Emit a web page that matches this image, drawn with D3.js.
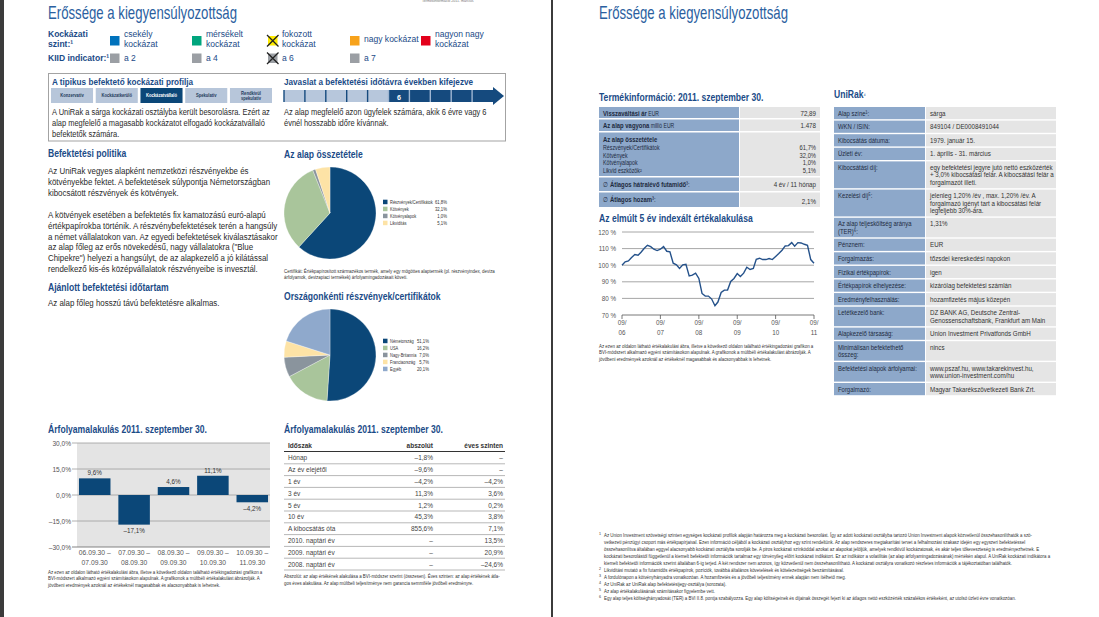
<!DOCTYPE html>
<html>
<head>
<meta charset="utf-8">
<script src="https://cdn.jsdelivr.net/npm/d3@7"></script>
<style>
  body { margin: 0; background: #fff; }
  svg { display: block; }
</style>
</head>
<body>
<svg id="page" width="1099" height="617"></svg>
<script>
// ---- data ----
const riskLabels = [['csekély', 'kockázat'], ['mérsékelt', 'kockázat'], ['fokozott', 'kockázat'], ['nagy kockázat'], ['nagyon nagy', 'kockázat']];
const riskColors = ['#0072bc', '#00a57d', '#ffec00', '#f7a21b', '#e3001b'];
const kiidLabels = ['a 2', 'a 4', 'a 6', 'a 7'];
const riskSelected = 2;

const profiles = [['Konzervatív'], ['Kockázatkerülő'], ['Kockázatvállaló'], ['Spekulatív'], ['Rendkívül', 'spekulatív']];
const profileSelected = 2;
const horizonYears = 10;
const horizonMin = 6;

const fundParts = ['Részvények/Certifikátok', 'Kötvények', 'Kötvényalapok', 'Likviditás'];
const fundShares = [61.8, 32.1, 1.0, 5.1];
const countryNames = ['Németország', 'USA', 'Nagy-Britannia', 'Franciaország', 'Egyéb'];
const countryShares = [51.1, 16.2, 7.0, 5.7, 20.1];
const pieColors = ['#0b4778', '#a9c59b', '#8a949d', '#fde3a6', '#8fa9cc'];

const barPeriods = [['06.09.30 –', '07.09.30'], ['07.09.30 –', '08.09.30'], ['08.09.30 –', '09.09.30'], ['09.09.30 –', '10.09.30'], ['10.09.30 –', '11.09.30']];
const barValues = [9.6, -17.1, 4.6, 11.1, -4.2];
const barTicks = [30, 15, 0, -15, -30];

const perfPeriods = ['Hónap', 'Az év elejétől', '1 év', '3 év', '5 év', '10 év', 'A kibocsátás óta', '2010. naptári év', '2009. naptári év', '2008. naptári év'];
const perfAbsolute = [-1.8, -9.6, -4.2, 11.3, 1.2, 45.3, 855.6, null, null, null];
const perfAnnual = [null, null, -4.2, 3.6, 0.2, 3.8, 7.1, 13.5, 20.9, -24.6];

const redemptionPrice = 72.89;
const fundAssets = 1478;
const compNames = ['Részvények/Certifikátok', 'Kötvények', 'Kötvényalapok', 'Likvid eszközök²'];
const compValues = [61.7, 32.0, 1.0, 5.1];
const avgMaturity = '4 év / 11 hónap';
const avgYield = 2.1;

const indexStart = new Date(2006, 8, 30);
const indexValues = [100, 102, 102.6, 104.6, 106.4, 106, 107.8, 110.2, 112, 111.2, 109.6, 108.8, 109.6,
  111.2, 108.4, 108, 101.2, 100.2, 98, 100.2, 100.6, 93.6, 94, 95.2, 92,
  83, 81.4, 81.4, 79.6, 75.6, 77.8, 83.6, 85, 85, 90.2, 92, 95,
  93.2, 95.2, 98.8, 97.4, 98, 103.6, 104.2, 103.4, 103.4, 104, 103.4, 105.2,
  107, 109, 111.6, 111.8, 113.6, 111.4, 113.6, 113.4, 112.6, 112, 103.4, 101.2];
const indexTicks = [70, 80, 90, 100, 110, 120];

const uniLabels = [['Alap színe¹:'], ['WKN / ISIN:'], ['Kibocsátás dátuma:'], ['Üzleti év:'], ['Kibocsátási díj:'], ['Kezelési díj⁵:'],
  ['Az alap teljesköltség aránya', '(TER)⁶:'], ['Pénznem:'], ['Forgalmazás:'], ['Fizikai értékpapírok:'], ['Értékpapírok elhelyezése:'],
  ['Eredményfelhasználás:'], ['Letétkezelő bank:'], ['Alapkezelő társaság:'], ['Minimálisan befektethető', 'összeg:'],
  ['Befektetési alapok árfolyamai:'], ['Forgalmazó:']];
const uniValues = [['sárga'], ['849104 / DE0008491044'], ['1979. január 15.'], ['1. április - 31. március'],
  ['egy befektetési jegyre jutó nettó eszközérték', '+ 3,0% kibocsátási felár. A kibocsátási felár a', 'forgalmazót illeti.'],
  ['jelenleg 1,20% /év , max. 1,20% /év. A', 'forgalmazó igényt tart a kibocsátási felár', 'legfeljebb 30%-ára.'],
  ['1,31%'], ['EUR'], ['tőzsdei kereskedési napokon'], ['igen'], ['kizárólag befektetési számlán'], ['hozamfizetés május közepén'],
  ['DZ BANK AG, Deutsche Zentral-', 'Genossenschaftsbank, Frankfurt am Main'], ['Union Investment Privatfonds GmbH'], ['nincs'],
  ['www.pszaf.hu, www.takarekinvest.hu,', 'www.union-investment.com/hu'], ['Magyar Takarékszövetkezeti Bank Zrt.']];

const policyText = [
  ['Az UniRak vegyes alapként nemzetközi részvényekbe és', 'kötvényekbe fektet. A befektetések súlypontja Németországban', 'kibocsátott részvények és kötvények.'],
  ['A kötvények esetében a befektetés fix kamatozású euró-alapú', 'értékpapírokba történik. A részvénybefektetések terén a hangsúly',
    'a német vállalatokon van. Az egyedi befektetések kiválasztásakor', 'az alap főleg az erős növekedésű, nagy vállalatokra ("Blue',
    'Chipekre") helyezi a hangsúlyt, de az alapkezelő a jó kilátással', 'rendelkező kis-és középvállalatok részvényeibe is invesztál.']
];
const chartNote = ['Az ezen az oldalon látható értékalakulási ábra, illetve a következő oldalon található értékingadozási grafikon a',
  'BVI-módszert alkalmazó egyéni számításokon alapulnak. A grafikonok a múltbéli értékalakulást ábrázolják. A',
  'jövőbeni eredmények azoknál az értékeknél magasabbak és alacsonyabbak is lehetnek.'];
const footnotes = [
  ['1', 'Az Union Investment szövetségi szinten egységes kockázati profilok alapján határozza meg a kockázati besorolást. Így az adott kockázati osztályba tartozó Union Investment alapok közvetlenül összehasonlíthatók a szö-'],
  ['', 'vetkezeti pénzügyi csoport más értékpapírjaival. Ezen információ céljából a kockázati osztályhoz egy színt rendeltünk. Az alap rendszeres megtakarítási tervet a felhalmozási szakasz idején egy egyszeri befektetéssel'],
  ['', 'összehasonlítva általában eggyel alacsonyabb kockázati osztályba sorolják be. A piros kockázati színkóddal azokat az alapokat jelöljük, amelyek rendkívül kockázatosak, és akár teljes tőkeveszteség is eredményezhetnek. E'],
  ['', 'kockázati besorolástól függetlenül a kiemelt befektetői információk tartalmaz egy törvényileg előírt kockázati indikátort. Ez az indikátor a volatilitás (az alap árfolyamingadozásának) mértékén alapul. A UniRak kockázati indikátora a'],
  ['', 'kiemelt befektetői információk szerint általában 6-ig terjed. A két rendszer nem azonos, így közvetlenül nem összehasonlítható. A kockázati osztályra vonatkozó részletes információk a tájékoztatóban találhatók.'],
  ['2', 'Likviditási mutató a fix futamidős értékpapírok, pozíciók, továbbá általános követelések és kötelezettségek beszámításával.'],
  ['3', 'A fordulónapon a kötvényhányadra vonatkozóan. A hozamfizetés és a jövőbeli teljesítmény ennek alapján nem ítélhető meg.'],
  ['4', 'Az UniRak az UniRak alap befektetésijegy-osztálya (sorozata).'],
  ['5', 'Az alap értékalakulásának számításakor figyelembe vett.'],
  ['6', 'Egy alap teljes költséghányadosát (TER) a BVI II.8. pontja szabályozza. Egy alap költségeinek és díjainak összegét fejezi ki az átlagos nettó eszközérték százalékos értékeként, az utolsó üzleti évre vonatkozóan.']
];

// ---- style ----
const NAVY = '#0b4778';
const HEAD = '#1b4b87';
const TITLE = '#2b5f9f';
const INK = '#2a2a2a';
const GREY = '#555';
const STEEL = '#8da8ca';
const PALE = '#e5e5e5';
const FONT = 'Liberation Sans, Arial, Helvetica, sans-serif';
const H = { bold: true, size: 10, fill: HEAD, sx: 0.86 };   // section headings
const CELL = { size: 7.4, fill: '#1e2b3f', sx: 0.8 };        // right-page table labels
const CELLV = { size: 7.4, fill: '#333', sx: 0.84 };         // right-page table values

const hu = d3.formatLocale({ decimal: ',', thousands: '.', grouping: [3], currency: ['', ' €'], minus: '–' });
const pct1 = v => v == null ? '–' : hu.format('.1f')(v) + '%';

const svg = d3.select('#page');

function txt(g, x, y, s, o = {}) {
  const t = g.append('text')
    .attr('transform', `translate(${x},${y}) scale(${o.sx ?? 0.9},1)`)
    .attr('font-family', FONT)
    .attr('font-size', o.size ?? 9)
    .attr('font-weight', o.bold ? 'bold' : 'normal')
    .attr('fill', o.fill ?? INK)
    .attr('text-anchor', o.anchor ?? 'start');
  if (Array.isArray(s)) {
    s.forEach(seg => t.append('tspan')
      .attr('font-weight', seg.bold ? 'bold' : 'normal')
      .attr('font-size', seg.size ?? null)
      .attr('fill', seg.fill ?? null)
      .text(seg.t));
  } else {
    t.text(s);
  }
  return t;
}

function lines(g, x, y, dy, arr, o) {
  arr.forEach((s, i) => txt(g, x, y + i * dy, s, o));
}

// ---- page frame ----
svg.append('rect').attr('width', 1099).attr('height', 617).attr('fill', '#fff');
svg.append('rect').attr('x', 0).attr('width', 4).attr('height', 617).attr('fill', '#3b3b3b');
svg.append('rect').attr('x', 551).attr('width', 2).attr('height', 617).attr('fill', '#3b3b3b');

const L = svg.append('g');
const R = svg.append('g');

// ---- titles ----
[[L, 48], [R, 599]].forEach(([g, x]) => {
  g.append('text').attr('x', x).attr('y', 19)
    .attr('font-family', FONT).attr('font-size', 19).attr('fill', TITLE)
    .attr('textLength', 189).attr('lengthAdjust', 'spacingAndGlyphs')
    .text('Erőssége a kiegyensúlyozottság');
});
txt(L, 422, 2, 'Termékinformáció 2011. március', { size: 4, fill: '#777' });

// ---- risk legend ----
const riskX = [110, 192, 268, 350, 421];
const RL = { size: 9.5, fill: HEAD, sx: 0.9 };
txt(L, 48, 36.5, 'Kockázati', { ...RL, bold: true });
txt(L, 48, 46.5, 'szint:¹', { ...RL, bold: true });
txt(L, 48, 61, 'KIID indicator:¹', { ...RL, bold: true });

function xMark(g, x, y, s) {
  g.append('path').attr('d', `M${x - 1},${y - 1}L${x + s + 1},${y + s + 1}M${x + s + 1},${y - 1}L${x - 1},${y + s + 1}`)
    .attr('stroke', '#222').attr('stroke-width', 1.3);
}

riskLabels.forEach((lab, i) => {
  L.append('rect').attr('x', riskX[i]).attr('y', 36).attr('width', 9.5).attr('height', 9.5).attr('fill', riskColors[i]);
  if (i === riskSelected) xMark(L, riskX[i], 36, 9.5);
  const y0 = lab.length === 1 ? 41.5 : 36.5;
  lines(L, riskX[i] + 14, y0, 10, lab, RL);
});
kiidLabels.forEach((lab, i) => {
  L.append('rect').attr('x', riskX[i]).attr('y', 53.5).attr('width', 9.5).attr('height', 9.5).attr('fill', '#9b9fa4');
  if (i === riskSelected) xMark(L, riskX[i], 53.5, 9.5);
  txt(L, riskX[i] + 14, 61, lab, RL);
});

// ---- profile box ----
L.append('rect').attr('x', 48.5).attr('y', 73.5).attr('width', 457).attr('height', 67.5)
  .attr('fill', 'none').attr('stroke', '#a3a3a3');
txt(L, 52, 85, 'A tipikus befektető kockázati profilja', { ...H, size: 9.5 });

const profX = d3.scaleBand().domain(d3.range(profiles.length)).range([51, 272]).paddingInner(0.06);
profiles.forEach((p, i) => {
  const sel = i === profileSelected;
  L.append('rect').attr('x', profX(i)).attr('y', 88).attr('width', profX.bandwidth()).attr('height', 15)
    .attr('fill', sel ? NAVY : '#b7c6da');
  const cx = profX(i) + profX.bandwidth() / 2;
  const y0 = p.length === 1 ? 97 : 94.5;
  lines(L, cx, y0, 5.5, p, { size: 4.6, bold: true, anchor: 'middle', fill: sel ? '#fff' : '#243a5a' });
});
lines(L, 52, 115, 11.2, ['A UniRak a sárga kockázati osztályba került besorolásra. Ezért az',
  'alap megfelelő a magasabb kockázatot elfogadó kockázatvállaló', 'befektetők számára.'], { size: 9, sx: 0.83 });

txt(L, 284, 85, 'Javaslat a befektetési időtávra években kifejezve', { ...H, size: 9.5 });
const yearX = d3.scaleLinear().domain([0, horizonYears]).range([284, 493]);
L.append('rect').attr('x', yearX(0)).attr('y', 90).attr('width', yearX(horizonMin - 1) - yearX(0)).attr('height', 12).attr('fill', '#b7c7dc');
L.append('rect').attr('x', yearX(horizonMin - 1)).attr('y', 90).attr('width', yearX(horizonYears) - yearX(horizonMin - 1)).attr('height', 12).attr('fill', '#154a7e');
L.append('path').attr('d', `M${yearX(horizonYears)},87L${yearX(horizonYears) + 11},96L${yearX(horizonYears)},105Z`).attr('fill', '#154a7e');
d3.range(0, horizonYears).forEach(k => {
  L.append('line').attr('x1', yearX(k)).attr('x2', yearX(k)).attr('y1', 90).attr('y2', 102)
    .attr('stroke', k < horizonMin - 1 ? '#154a7e' : '#9fb6d2').attr('stroke-width', 1.4);
});
txt(L, (yearX(horizonMin - 1) + yearX(horizonMin)) / 2, 99.5, String(horizonMin), { bold: true, size: 8, fill: '#fff', anchor: 'middle' });
lines(L, 284, 115, 11.2, ['Az alap megfelelő azon ügyfelek számára, akik 6 évre vagy 6', 'évnél hosszabb időre kívánnak.'], { size: 9, sx: 0.83 });

// ---- policy text ----
txt(L, 48, 157, 'Befektetési politika', H);
lines(L, 48, 173.5, 11.3, policyText[0], { size: 9, sx: 0.88 });
lines(L, 48, 218, 10.8, policyText[1], { size: 9, sx: 0.88 });
txt(L, 48, 290.5, 'Ajánlott befektetési időtartam', H);
txt(L, 48, 306, 'Az alap főleg hosszú távú befektetésre alkalmas.', { size: 9, sx: 0.88 });

// ---- pies ----
function drawPie(g, cx, cy, r, names, shares, legX, legY, valX) {
  const arcs = d3.pie().sort(null)(shares);
  const arc = d3.arc().innerRadius(0).outerRadius(r);
  g.append('g').attr('transform', `translate(${cx},${cy})`)
    .selectAll('path').data(arcs).join('path')
    .attr('d', arc).attr('fill', (d, i) => pieColors[i]).attr('stroke', '#fff').attr('stroke-width', 0.3);
  names.forEach((n, i) => {
    const y = legY + i * 7;
    g.append('rect').attr('x', legX).attr('y', y - 2.3).attr('width', 4.5).attr('height', 4.5).attr('fill', pieColors[i]);
    txt(g, legX + 7, y + 1.8, n, { size: 5, fill: '#333', sx: 0.8 });
    txt(g, valX, y + 1.8, pct1(shares[i]), { size: 5, fill: '#333', anchor: 'end', sx: 0.85 });
  });
}
txt(L, 284, 158, 'Az alap összetétele', H);
drawPie(L, 330, 213, 46, fundParts, fundShares, 383, 202, 447);
lines(L, 284, 272.5, 6.8, ['Certifikát: Értékpapírosított származékos termék, amely egy mögöttes alaptermék (pl. részvényindex, deviza',
  'árfolyamok, devizapiaci termékek) árfolyamingadozásait követi.'], { size: 4.9, fill: '#333' });
txt(L, 284, 299.5, 'Országonkénti részvények/certifikátok', H);
drawPie(L, 330, 355, 46, countryNames, countryShares, 383, 341, 429);

// ---- bar chart ----
txt(L, 48, 432.5, 'Árfolyamalakulás 2011. szeptember 30.', H);
const bx = d3.scaleBand().domain(d3.range(barValues.length)).range([77, 270]).paddingInner(0.2).paddingOuter(0.05);
const by = d3.scaleLinear().domain([-30, 30]).range([547, 443]);
L.append('rect').attr('x', 77).attr('y', by(30)).attr('width', 193).attr('height', by(-30) - by(30)).attr('fill', '#e4e4e4');
barTicks.forEach(t => {
  L.append('line').attr('x1', 72).attr('x2', 270).attr('y1', by(t)).attr('y2', by(t))
    .attr('stroke', t === -30 ? '#666' : '#9c9c9c').attr('stroke-width', 0.8);
  txt(L, 71, by(t) + 2.5, pct1(t), { size: 7.3, fill: GREY, anchor: 'end' });
});
L.selectAll('rect.bar').data(barValues).join('rect').attr('class', 'bar')
  .attr('x', (d, i) => bx(i)).attr('width', bx.bandwidth())
  .attr('y', d => by(Math.max(0, d))).attr('height', d => Math.abs(by(d) - by(0)))
  .attr('fill', NAVY);
barValues.forEach((v, i) => {
  const cx = bx(i) + bx.bandwidth() / 2;
  txt(L, cx, v >= 0 ? by(v) - 3 : by(v) + 8.5, pct1(v), { size: 7, fill: '#333', anchor: 'middle' });
  lines(L, cx, 555, 10, barPeriods[i], { size: 7.5, fill: GREY, anchor: 'middle' });
});
lines(L, 48, 573.5, 6.5, chartNote, { size: 4.9, fill: '#333' });

// ---- performance table ----
txt(L, 284, 432.5, 'Árfolyamalakulás 2011. szeptember 30.', H);
const rowY = d3.scaleBand().domain(d3.range(perfPeriods.length)).range([452, 570]);
const PT = { size: 7.4, fill: '#444', sx: 0.88 };
txt(L, 288, 447.5, 'Időszak', { ...PT, bold: true, fill: '#333' });
txt(L, 433, 447.5, 'abszolút', { ...PT, bold: true, fill: '#333', anchor: 'end' });
txt(L, 503, 447.5, 'éves szinten', { ...PT, bold: true, fill: '#333', anchor: 'end' });
L.append('line').attr('x1', 284).attr('x2', 505).attr('y1', 451.5).attr('y2', 451.5).attr('stroke', '#333').attr('stroke-width', 1);
perfPeriods.forEach((p, i) => {
  const y = rowY(i) + rowY.bandwidth() / 2 + 2.5;
  txt(L, 288, y, p, PT);
  txt(L, 433, y, pct1(perfAbsolute[i]), { ...PT, anchor: 'end' });
  txt(L, 503, y, pct1(perfAnnual[i]), { ...PT, anchor: 'end' });
  L.append('line').attr('x1', 284).attr('x2', 505).attr('y1', rowY(i) + rowY.bandwidth()).attr('y2', rowY(i) + rowY.bandwidth())
    .attr('stroke', '#9a9a9a').attr('stroke-width', 0.7);
});
lines(L, 284, 577.5, 7.5, ['Abszolút: az alap értékének alakulása a BVI-módszer szerint (összesen). Éves szinten: az alap értékének átla-',
  'gos éves alakulása. Az alap múltbeli teljesítménye nem garancia semmiféle jövőbeli eredményre.'], { size: 4.9, fill: '#333' });

// ---- product info table (right) ----
txt(R, 599, 100.5, 'Termékinformáció: 2011. szeptember 30.', H);
const prodRows = [[107, 118], [119.5, 131], [132.5, 176], [177.5, 191], [192.5, 207]];
prodRows.forEach(([t, b]) => {
  R.append('rect').attr('x', 599).attr('y', t).attr('width', 140).attr('height', b - t).attr('fill', STEEL);
  R.append('rect').attr('x', 740).attr('y', t).attr('width', 80).attr('height', b - t).attr('fill', PALE);
});
const VAL = { ...CELLV, anchor: 'end' };
txt(R, 603, 115.5, [{ t: 'Visszaváltási ár', bold: true }, { t: '  EUR', size: 6.3 }], CELL);
txt(R, 816, 115.5, hu.format(',.2f')(redemptionPrice), VAL);
txt(R, 603, 128, [{ t: 'Az alap vagyona', bold: true }, { t: '  millió EUR', size: 6.3 }], CELL);
txt(R, 816, 128, hu.format(',d')(fundAssets), VAL);
txt(R, 603, 141.5, 'Az alap összetétele', { ...CELL, bold: true });
compNames.forEach((n, i) => {
  txt(R, 603, 150 + i * 7.6, n, { ...CELL, size: 6.6 });
  txt(R, 816, 150 + i * 7.6, pct1(compValues[i]), { ...VAL, size: 6.9 });
});
txt(R, 603, 186.5, [{ t: '∅ ' }, { t: 'Átlagos hátralévő futamidő', bold: true }, { t: '³:' }], CELL);
txt(R, 816, 186.5, avgMaturity, VAL);
txt(R, 603, 201.5, [{ t: '∅ ' }, { t: 'Átlagos hozam', bold: true }, { t: '³:' }], CELL);
txt(R, 816, 203.5, pct1(avgYield), VAL);

// ---- index line chart ----
txt(R, 599, 221.5, 'Az elmúlt 5 év indexált értékalakulása', H);
const indexDates = indexValues.map((v, i) => d3.timeMonth.offset(indexStart, i));
const lx = d3.scaleTime().domain([indexStart, indexDates[indexDates.length - 1]]).range([622, 814]);
const ly = d3.scaleLinear().domain([70, 120]).range([315, 232]);
indexTicks.forEach(t => {
  R.append('line').attr('x1', 622).attr('x2', 814).attr('y1', ly(t)).attr('y2', ly(t))
    .attr('stroke', t === 70 ? '#555' : '#8f8f8f').attr('stroke-width', 0.8);
  txt(R, 616, ly(t) + 2.5, hu.format('d')(t) + ' %', { size: 7, fill: GREY, anchor: 'end' });
});
const yearTicks = d3.range(0, indexValues.length, 12).map(i => indexDates[i]);
yearTicks.forEach(d => {
  R.append('line').attr('x1', lx(d)).attr('x2', lx(d)).attr('y1', 315).attr('y2', 319).attr('stroke', '#555').attr('stroke-width', 0.8);
  lines(R, lx(d), 324.5, 10, [d3.timeFormat('%m/')(d), d3.timeFormat('%y')(d)], { size: 7, fill: GREY, anchor: 'middle' });
});
R.append('path').datum(indexValues)
  .attr('d', d3.line().x((d, i) => lx(indexDates[i])).y(d => ly(d)))
  .attr('fill', 'none').attr('stroke', '#24518a').attr('stroke-width', 1.4);
lines(R, 599, 347.5, 6.6, chartNote, { size: 4.9, fill: '#333' });

// ---- UniRak table ----
txt(R, 834, 98, [{ t: 'UniRak', bold: true }, { t: '⁴', size: 6 }], H);
let rowTop = 107;
uniLabels.forEach((labLines, i) => {
  const n = Math.max(labLines.length, uniValues[i].length);
  const h = 12.2 + (n - 1) * 7.3;
  R.append('rect').attr('x', 834).attr('y', rowTop).attr('width', 91).attr('height', h).attr('fill', STEEL);
  R.append('rect').attr('x', 926).attr('y', rowTop).attr('width', 130).attr('height', h).attr('fill', PALE);
  lines(R, 838, rowTop + 8.6, 7.3, labLines, CELL);
  lines(R, 930, rowTop + 8.6, 7.3, uniValues[i], CELLV);
  rowTop += h + 1.4;
});

// ---- footnotes ----
footnotes.forEach(([num, s], i) => {
  const y = 536.5 + i * 7;
  if (num) txt(R, 599, y - 1.5, num, { size: 4, fill: '#333' });
  txt(R, 604, y, s, { size: 4.9, fill: '#333' });
});
</script>
</body>
</html>
